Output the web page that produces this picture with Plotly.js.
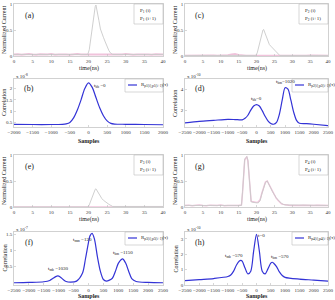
<!DOCTYPE html>
<html><head><meta charset="utf-8">
<script src="https://cdn.plot.ly/plotly-3.0.1.min.js"></script>
<style>html,body{margin:0;padding:0;background:#fff}#chart{width:335px;height:300px}</style>
</head><body><div id="chart"></div>
<script>
// ---------- pulse panels (normalized current vs time) ----------
const tPulse = [0,19.8,20.2,20.6,21,21.4,21.8,22,22.4,22.8,23.2,23.6,24,24.5,25,25.5,26,26.5,40];
const a_i = [0.03,0.03,0.12,0.35,0.58,0.8,0.95,0.98,0.86,0.68,0.52,0.42,0.36,0.27,0.18,0.1,0.05,0.03,0.03];
const c_i = [0.01,0.01,0.06,0.18,0.3,0.42,0.5,0.51,0.44,0.35,0.27,0.22,0.19,0.15,0.11,0.07,0.03,0.01,0.01];
const e_i = [0,0,0.04,0.12,0.2,0.28,0.34,0.35,0.3,0.24,0.19,0.16,0.13,0.1,0.07,0.05,0.03,0.01,0.01];

const tNoise = [0,1,2,3,4,5,6,7,8,9,10,11,12,13,14,15,16,17,18,19,20,21,22,23,24,25,26,27,28,29,30,31,32,33,34,35,36,37,38,39,40];
const a_next = [0.03,0.035,0.025,0.03,0.04,0.03,0.025,0.035,0.03,0.03,0.04,0.025,0.03,0.035,0.03,0.025,0.03,0.04,0.03,0.03,0.035,0.03,0.025,0.03,0.035,0.03,0.03,0.025,0.035,0.03,0.04,0.03,0.025,0.03,0.035,0.03,0.03,0.025,0.035,0.03,0.03];
const c_next = [0.01,0.012,0.008,0.01,0.012,0.01,0.008,0.01,0.012,0.01,0.01,0.012,0.02,0.035,0.04,0.025,0.012,0.01,0.008,0.01,0.012,0.01,0.01,0.008,0.01,0.012,0.01,0.01,0.008,0.01,0.012,0.01,0.01,0.008,0.01,0.012,0.01,0.01,0.008,0.01,0.01];
const e_next = [0.004,0.005,0.004,0.005,0.004,0.005,0.004,0.005,0.004,0.005,0.004,0.005,0.004,0.005,0.004,0.005,0.004,0.005,0.004,0.005,0.004,0.005,0.004,0.005,0.004,0.005,0.004,0.005,0.004,0.005,0.004,0.005,0.004,0.005,0.004,0.005,0.004,0.005,0.004,0.005,0.004];

const tG = [0,15.8,16.1,16.4,16.7,17,17.3,17.6,17.9,18.2,18.5,19,19.5,20,20.5,21,21.5,22,22.5,23,23.5,24,24.5,25,25.5,26,26.5,27,27.5,28,40];
const g_i = [0.03,0.03,0.3,0.75,0.92,0.95,0.97,0.9,0.6,0.2,0.1,0.09,0.08,0.08,0.08,0.12,0.25,0.38,0.47,0.5,0.44,0.36,0.29,0.23,0.18,0.14,0.1,0.07,0.05,0.04,0.03];
const tGn = [0,1,2,3,4,5,6,7,8,9,10,11,12,13,14,15,15.8,16.1,16.4,16.7,17,17.3,17.6,17.9,18.2,18.5,19,19.5,20,20.5,21,21.5,22,22.5,23,23.5,24,24.5,25,25.5,26,26.5,27,27.5,28,29,30,31,32,33,34,35,36,37,38,39,40];
const g_next = [0.03,0.035,0.025,0.03,0.04,0.03,0.025,0.035,0.03,0.03,0.04,0.025,0.03,0.035,0.03,0.03,0.04,0.28,0.72,0.9,0.94,0.96,0.88,0.58,0.22,0.11,0.1,0.09,0.09,0.1,0.14,0.27,0.4,0.48,0.5,0.43,0.35,0.28,0.22,0.17,0.13,0.09,0.06,0.05,0.04,0.035,0.03,0.025,0.03,0.035,0.03,0.025,0.03,0.035,0.03,0.025,0.03];

// ---------- correlation panels ----------
const sB = [-2000,-1500,-1000,-700,-600,-500,-400,-300,-200,-100,0,100,200,300,400,500,600,700,1000,1500,2000];
const rB = [0.42,0.41,0.41,0.42,0.44,0.5,0.7,1.05,1.5,2.0,2.25,2.05,1.6,1.15,0.8,0.57,0.46,0.43,0.42,0.41,0.4];

const sD = [-2500,-2000,-1500,-1000,-750,-500,-400,-300,-200,-100,0,100,200,300,400,500,600,700,800,900,1000,1100,1200,1300,1400,1500,1750,2000,2500];
const rD = [0.75,0.9,1.0,1.1,1.08,1.05,1.2,1.5,2.0,2.4,2.55,2.4,1.95,1.4,0.95,0.7,0.62,0.8,1.6,3.0,4.2,4.05,3.0,1.8,1.0,0.72,0.68,0.62,0.48];

const sF = [-2500,-2000,-1500,-1300,-1200,-1100,-1030,-950,-850,-750,-600,-400,-200,-100,0,50,120,200,300,400,500,600,800,900,1000,1100,1150,1250,1350,1450,1600,2000,2500];
const rF = [0.0,0.01,0.03,0.07,0.13,0.19,0.21,0.18,0.1,0.04,0.02,0.05,0.3,0.75,1.25,1.45,1.53,1.35,0.8,0.35,0.1,0.05,0.14,0.35,0.6,0.72,0.74,0.6,0.35,0.13,0.04,0.01,0.0];

const sH = [-2500,-2000,-1500,-1000,-900,-800,-700,-600,-550,-500,-400,-300,-200,-100,0,100,200,300,400,500,550,600,700,800,900,1000,1500,2000,2500];
const rH = [0.28,0.35,0.42,0.55,0.65,0.9,1.3,1.56,1.6,1.55,1.1,0.72,0.9,2.2,3.3,2.2,0.9,0.72,1.05,1.42,1.48,1.42,1.2,0.85,0.62,0.5,0.38,0.32,0.25];

const pulseTicksX = [0,5,10,15,20,25,30,35,40];
const pulseTicksY = [0,0.5,1];
const ticksB = [-2000,-1500,-1000,-500,0,500,1000,1500,2000];
const ticksWide = [-2500,-2000,-1500,-1000,-500,0,500,1000,1500,2000,2500];

// ---------- layout helpers ----------
const W=335,H=300;
const px = x => x/W, py = y => 1-y/H;
const cols=[[14,163],[185,328]];
const rows=[[4,56],[79,127],[155,207],[232,285]];
const FONT='Liberation Serif, Times New Roman, serif';
const layout={width:W,height:H,margin:{l:0,r:0,t:0,b:0},showlegend:false,
  paper_bgcolor:'#fff',plot_bgcolor:'#fff',annotations:[],shapes:[]};
const traces=[];
const GRAY='#c9c9c9', PINK='#e9a9cc', BLUE='#3333d6';

function axes(n,col,row,xr,xt,yr,yt){
  const s = n===1?'':String(n);
  const base={showline:true,mirror:true,linecolor:'#bdbdbd',linewidth:0.7,ticks:'inside',ticklen:2,
    tickcolor:'#bdbdbd',tickwidth:0.6,showgrid:false,zeroline:false,fixedrange:true,tickangle:0,
    tickfont:{family:FONT,size:5,color:'#333'}};
  layout['xaxis'+s]=Object.assign({},base,{domain:[px(cols[col][0]),px(cols[col][1])],anchor:'y'+s,range:xr,tickvals:xt});
  layout['yaxis'+s]=Object.assign({},base,{domain:[py(rows[row][1]),py(rows[row][0])],anchor:'x'+s,range:yr,tickvals:yt});
  return s;
}
function ann(x,y,text,size,extra){
  layout.annotations.push(Object.assign({xref:'paper',yref:'paper',x:px(x),y:py(y),text:text,showarrow:false,
    font:{family:FONT,size:size,color:'#222'},xanchor:'center',yanchor:'middle'},extra||{}));
}
function box(x0,y0,x1,y1){
  layout.shapes.push({type:'rect',xref:'paper',yref:'paper',x0:px(x0),x1:px(x1),y0:py(y1),y1:py(y0),
    line:{color:'#bdbdbd',width:0.6},fillcolor:'#fff',layer:'above'});
}
function lineSample(x0,x1,y){
  layout.shapes.push({type:'line',xref:'paper',yref:'paper',x0:px(x0),x1:px(x1),y0:py(y),y1:py(y),
    line:{color:BLUE,width:1.2},layer:'above'});
}

// pulse panels
function pulsePanel(n,col,row,tI,yI,tN,yN,letter,idx,pw){
  const s=axes(n,col,row,[0,40],pulseTicksX,[0,1],pulseTicksY);
  traces.push({x:tN,y:yN,xaxis:'x'+s,yaxis:'y'+s,mode:'lines',line:{color:PINK,width:pw},opacity:0.7,hoverinfo:'skip'});
  traces.push({x:tI,y:yI,xaxis:'x'+s,yaxis:'y'+s,mode:'lines',line:{color:GRAY,width:0.9},hoverinfo:'skip'});
  const [x0,x1]=cols[col], [y0,y1]=rows[row];
  ann(x0+15,y0+11,letter,8);
  box(x1-29,y0,x1,y0+20);
  ann(x1-25,y0+6.5,'P<sub>'+idx+'</sub> (i)',5,{xanchor:'left'});
  ann(x1-25,y0+15,'P<sub>'+idx+'</sub> (i+1)',5,{xanchor:'left'});
  ann(x0+(x1-x0)/2,y1+12,'time(ns)',6,{});
  ann(col===0?4:175,(y0+y1)/2,'Normalized Current',6,{textangle:-90});
}
pulsePanel(1,0,0,tPulse,a_i,tNoise,a_next,'(a)',1,2);
pulsePanel(2,1,0,tPulse,c_i,tNoise,c_next,'(c)',2,1.6);
pulsePanel(5,0,2,tPulse,e_i,tNoise,e_next,'(e)',3,1.2);
pulsePanel(6,1,2,tG,g_i,tGn,g_next,'(g)',4,1.4);

// correlation panels
function corrPanel(n,col,row,xs,ys,xr,xt,yr,yt,letter,expo,idx,legW,titleDy){
  const s=axes(n,col,row,xr,xt,yr,yt);
  traces.push({x:xs,y:ys,xaxis:'x'+s,yaxis:'y'+s,mode:'lines',line:{color:BLUE,width:1.2,shape:'spline',smoothing:0.8},hoverinfo:'skip'});
  const [x0,x1]=cols[col], [y0,y1]=rows[row];
  ann(x0+15,y0+10,letter,8);
  ann(x0,y0-3.5,'x 10<sup>'+expo+'</sup>',5,{xanchor:'left'});
  box(x1-legW,y0,x1,y0+13);
  lineSample(x1-legW+3,x1-legW+12,y0+6);
  ann(x1-legW+13.5,y0+6.5,'R<sub>p'+idx+'(i),p'+idx+'(i+1)</sub>(τ)',5,{xanchor:'left'});
  ann(x0+(x1-x0)/2,y1+titleDy,'<b>Samples</b>',6,{});
  ann(col===0?4:175,(y0+y1)/2,'Correlation',6,{textangle:-90});
  return s;
}
const sb=corrPanel(3,0,1,sB,rB,[-2000,2000],ticksB,[0.3,2.42],[0.5,1,1.5,2],'(b)','-8',1,38,14);
const sd=corrPanel(4,1,1,sD,rD,[-2500,2500],ticksWide,[0.35,5.05],[2,4],'(d)','-10',2,36,14);
const sf=corrPanel(7,0,3,sF,rF,[-2500,2500],ticksWide,[-0.07,1.57],[0.5,1,1.5],'(f)','-7',3,38,11);
const sh=corrPanel(8,1,3,sH,rH,[-2500,2500],ticksWide,[0,3.45],[0,1,2,3],'(h)','-10',4,36,11);

// peak labels (data coords)
function pk(s,x,y,text){
  layout.annotations.push({xref:'x'+s,yref:'y'+s,x:x,y:y,text:text,showarrow:false,
    font:{family:FONT,size:5,color:'#222'},xanchor:'center',yanchor:'middle'});
}
pk(sb,320,2.12,'t<sub>bb</sub> =0');
pk(sd,0,3.05,'t<sub>bb</sub>=0');
pk(sd,1000,4.75,'t<sub>bm</sub>=1020');
pk(sf,-1030,0.42,'t<sub>mb</sub> =1030');
pk(sf,-200,1.32,'t<sub>mm</sub> =120');
pk(sf,1150,0.93,'t<sub>bm</sub> =1150');
pk(sh,-770,1.92,'t<sub>mb</sub> =570');
pk(sh,160,3.25,'t=0');
pk(sh,820,1.85,'t<sub>bm</sub> =570');

Plotly.newPlot('chart',traces,layout,{staticPlot:true,displayModeBar:false});
</script></body></html>
